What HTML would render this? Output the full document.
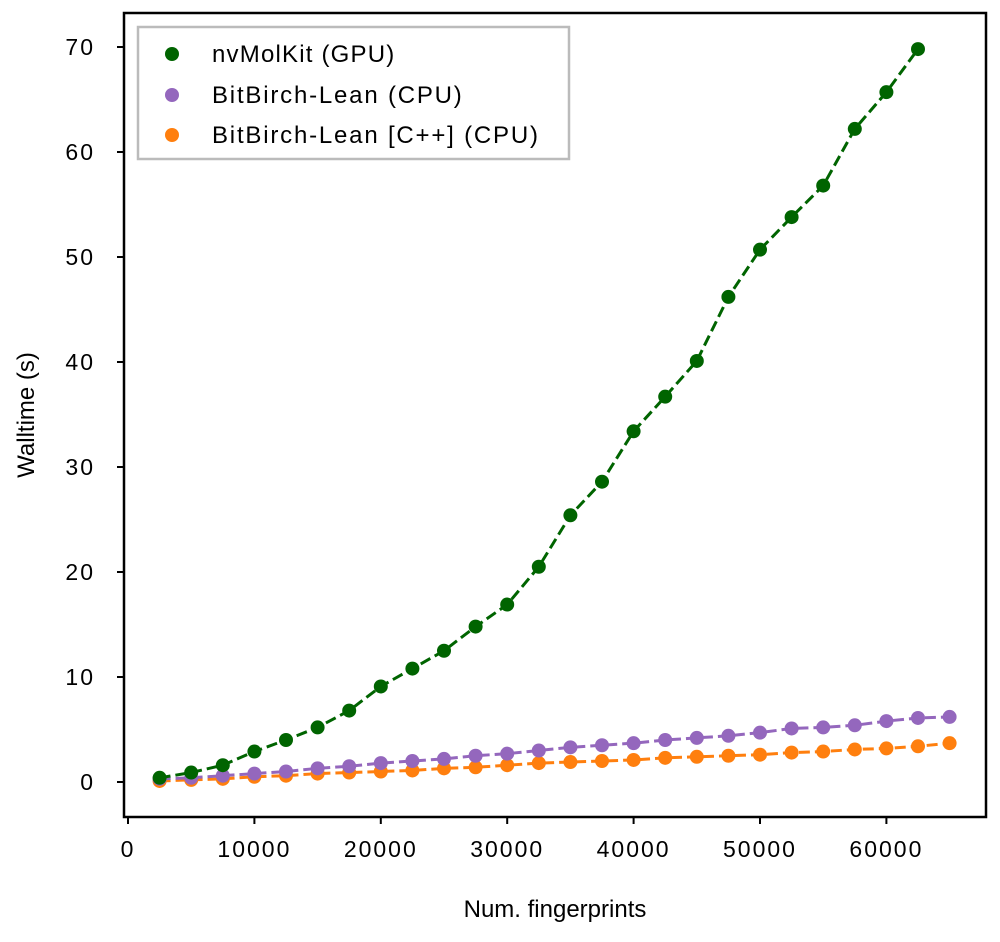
<!DOCTYPE html>
<html><head><meta charset="utf-8"><style>
body{margin:0;background:#fff}
svg text{font-family:"Liberation Sans",sans-serif;fill:#000}
</style></head><body>
<svg id="c" width="1000" height="937">
<rect x="124" y="13" width="862" height="804" fill="#fff" stroke="#000" stroke-width="2.5"/>
<g id="axes"></g><g id="series"></g>
<text x="555" y="917" font-size="24" text-anchor="middle">Num. fingerprints</text>
<text transform="translate(34,415) rotate(-90)" font-size="24" text-anchor="middle">Walltime (s)</text>
<g>
<rect x="138" y="27" width="431" height="132" fill="#fff" stroke="#bbb" stroke-width="2.5"/>
<circle cx="172" cy="54" r="7" fill="#006400"/><text x="212" y="62" font-size="24" letter-spacing="1.2">nvMolKit (GPU)</text>
<circle cx="172" cy="95" r="7" fill="#9467bd"/><text x="212" y="103" font-size="24" letter-spacing="1.8">BitBirch-Lean (CPU)</text>
<circle cx="172" cy="135" r="7" fill="#ff7f0e"/><text x="212" y="143" font-size="24" letter-spacing="1.8">BitBirch-Lean [C++] (CPU)</text>
</g>
</svg>
<script>
const xGpu=[2500,5000,7500,10000,12500,15000,17500,20000,22500,25000,27500,30000,32500,35000,37500,40000,42500,45000,47500,50000,52500,55000,57500,60000,62500];
const gpuVals=[0.4,0.9,1.6,2.9,4.0,5.2,6.8,9.1,10.8,12.5,14.8,16.9,20.5,25.4,28.6,33.4,36.7,40.1,46.2,50.7,53.8,56.8,62.2,65.7,69.8];
const xCpu=[2500,5000,7500,10000,12500,15000,17500,20000,22500,25000,27500,30000,32500,35000,37500,40000,42500,45000,47500,50000,52500,55000,57500,60000,62500,65000];
const cpuVals=[0.3,0.4,0.6,0.8,1.0,1.3,1.5,1.8,2.0,2.2,2.5,2.7,3.0,3.3,3.5,3.7,4.0,4.2,4.4,4.7,5.1,5.2,5.4,5.8,6.1,6.2];
const cppVals=[0.1,0.2,0.3,0.5,0.6,0.8,0.9,1.0,1.1,1.3,1.4,1.6,1.8,1.9,2.0,2.1,2.3,2.4,2.5,2.6,2.8,2.9,3.1,3.2,3.4,3.7];
const xTicks=[0,10000,20000,30000,40000,50000,60000];
const yTicks=[0,10,20,30,40,50,60,70];
const X=v=>128+v*0.01264, Y=v=>782-v*10.5;
const NS="http://www.w3.org/2000/svg";
const ax=document.getElementById('axes'), sr=document.getElementById('series');
function mk(p,t,a){const e=document.createElementNS(NS,t);for(const k in a)e.setAttribute(k,a[k]);p.appendChild(e);return e;}
xTicks.forEach(t=>{const x=X(t);
 const l=mk(ax,'line',{x1:x,x2:x,y1:817,y2:824,stroke:'#000','stroke-width':2});
 
 
 const tx=mk(ax,'text',{x:x,y:857,'font-size':23,'letter-spacing':2,'text-anchor':'middle'});tx.textContent=t;
 
 });
yTicks.forEach(t=>{const y=Y(t);
 const l=mk(ax,'line',{x1:117,x2:124,y1:y,y2:y,stroke:'#000','stroke-width':2});
 
 
 const tx=mk(ax,'text',{x:95,y:y+8,'font-size':23,'letter-spacing':2,'text-anchor':'end'});tx.textContent=t;
 
 });
function series(xs,ys,col,name){
 const p=mk(sr,'polyline',{points:xs.map((x,i)=>X(x)+','+Y(ys[i])).join(' '),fill:'none',stroke:col,'stroke-width':3,'stroke-dasharray':'11,5'});
 
 
 xs.forEach((x,i)=>{const c=mk(sr,'circle',{cx:X(x),cy:Y(ys[i]),r:7,fill:col});
  
  });
}
series(xCpu,cppVals,'#ff7f0e','cpp');
series(xCpu,cpuVals,'#9467bd','cpu');
series(xGpu,gpuVals,'#006400','gpu');
</script>
</body></html>
